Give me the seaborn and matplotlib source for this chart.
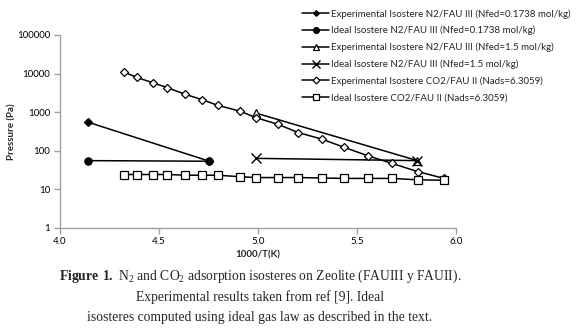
import numpy as np
import matplotlib
matplotlib.use("Agg")
import matplotlib.pyplot as plt
import seaborn as sns

sns.set_style("white")
plt.rcParams['font.family'] = ['Lato', 'DejaVu Sans']
plt.rcParams['mathtext.fontset'] = 'custom'
plt.rcParams['mathtext.rm'] = 'Liberation Serif'
plt.rcParams['mathtext.bf'] = 'Liberation Serif:bold'

# datos
x_n2_low = [4.14, 4.75]
y_exp_n2_low = [550, 54]
y_ideal_n2_low = [55, 53]

x_n2_high = [4.99, 5.805]
y_exp_n2_high = [940, 55]
y_ideal_n2_high = [63, 55]

x_co2 = [4.325, 4.388, 4.468, 4.542, 4.632, 4.717, 4.797, 4.910, 4.992, 5.099,
         5.203, 5.323, 5.435, 5.556, 5.675, 5.807, 5.940]
y_exp_co2 = [10900, 7900, 5800, 4300, 2900, 2100, 1500, 1050, 710, 485,
             295, 198, 122, 73, 47, 28.5, 19]
y_ideal_co2 = [24, 24, 24, 24, 23, 23, 23, 21, 20, 20,
               20, 19.5, 19, 19, 19, 17.5, 17]

labels = [
    "Experimental Isostere N2/FAU III (Nfed=0.1738 mol/kg)",
    "Ideal Isostere N2/FAU III (Nfed=0.1738 mol/kg)",
    "Experimental Isostere N2/FAU III (Nfed=1.5 mol/kg)",
    "Ideal Isostere N2/FAU III (Nfed=1.5 mol/kg)",
    "Experimental Isostere CO2/FAU II (Nads=6.3059)",
    "Ideal Isostere CO2/FAU II (Nads=6.3059)",
]

fig = plt.figure(figsize=(5.8, 3.3), dpi=100)
ax = fig.add_axes([60 / 580, 1 - 227.7 / 330, 396 / 580, 192.7 / 330])

series = [
    (x_n2_low, y_exp_n2_low, dict(marker='D', markersize=3.6, markerfacecolor='black')),
    (x_n2_low, y_ideal_n2_low, dict(marker='o', markersize=5.2, markerfacecolor='black')),
    (x_n2_high, y_exp_n2_high, dict(marker='^', markersize=5.5, markerfacecolor='white')),
    (x_n2_high, y_ideal_n2_high, dict(marker='x', markersize=6.5, markeredgewidth=1.0)),
    (x_co2, y_exp_co2, dict(marker='D', markersize=4.3, markerfacecolor='white')),
    (x_co2, y_ideal_co2, dict(marker='s', markersize=5.3, markerfacecolor='white')),
]

for (xs, ys, st), lab in zip(series, labels):
    sns.lineplot(x=xs, y=ys, ax=ax, color='black', linewidth=1.1,
                 markeredgecolor='black', markeredgewidth=st.pop('markeredgewidth', 0.9),
                 label=lab, **st)

ax.set_yscale('log')
ax.set_ylim(1, 100000)
ax.set_xlim(4.0, 6.0)
ax.set_xticks([4.0, 4.5, 5.0, 5.5, 6.0])
ax.set_xticklabels(['4.0', '4.5', '5.0', '5.5', '6.0'])
ax.set_yticks([1, 10, 100, 1000, 10000, 100000])
ax.set_yticklabels(['1', '10', '100', '1000', '10000', '100000'])
ax.minorticks_off()

sns.despine(ax=ax)
for s in ['left', 'bottom']:
    ax.spines[s].set_color('#a0a0a0')
    ax.spines[s].set_linewidth(1.0)
ax.tick_params(axis='both', direction='out', length=4, width=1.0, color='#a0a0a0',
               labelsize=7, labelcolor='black', pad=3, left=True, bottom=True)

ax.set_xlabel('1000/T(K)', fontsize=7, fontweight='bold', labelpad=3)
ax.set_ylabel('Pressure (Pa)', fontsize=7, fontweight='bold', labelpad=0.5)

ax.legend(loc='upper left', bbox_to_anchor=(302 / 580, 1 - 9 / 330),
          bbox_transform=fig.transFigure, frameon=False, fontsize=7,
          handlelength=2.8, handletextpad=0.2, labelspacing=0.75,
          borderpad=0, borderaxespad=0, markerscale=0.8)

cap = dict(ha='center', va='center', fontsize=9.8, family='Liberation Serif')
fig.text(0.448, 1 - 276 / 330,
         r"$\mathbf{Figure\ 1.}$ N$_2$ and CO$_2$ adsorption isosteres on Zeolite (FAUIII y FAUII).", **cap)
fig.text(0.448, 1 - 297 / 330, "Experimental results taken from ref [9]. Ideal", **cap)
fig.text(0.448, 1 - 318 / 330, "isosteres computed using ideal gas law as described in the text.", **cap)

fig.savefig('out.png', dpi=100)
